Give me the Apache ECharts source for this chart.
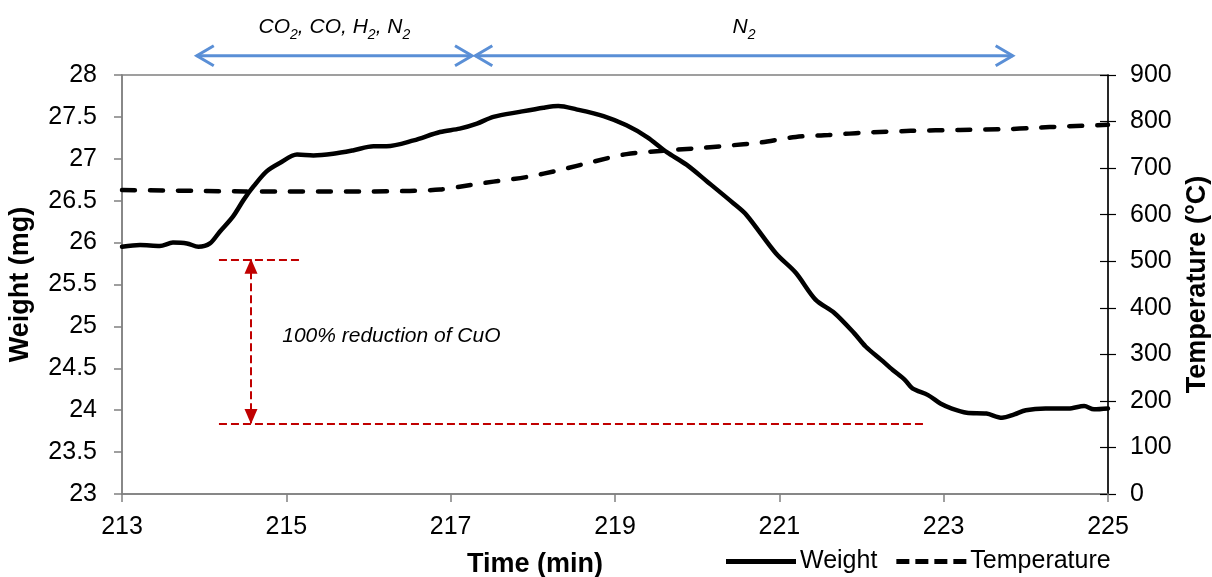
<!DOCTYPE html>
<html>
<head>
<meta charset="utf-8">
<script src="https://cdn.jsdelivr.net/npm/echarts@6/dist/echarts.min.js"></script>
<style>
html,body{margin:0;padding:0;background:#fff;}
#chart{width:1212px;height:577px;}
</style>
</head>
<body>
<div id="chart"></div>
<script>
// ---- Data ----
const weightTime = [213.00,213.22,213.46,213.62,213.79,213.93,214.07,214.19,214.35,214.48,214.60,214.76,214.92,215.13,215.33,215.57,215.81,216.06,216.22,216.55,216.87,217.11,217.32,217.52,217.84,218.13,218.31,218.53,218.86,219.14,219.39,219.63,219.87,220.12,220.44,220.60,220.96,221.20,221.44,221.67,221.91,222.05,222.24,222.38,222.53,222.62,222.81,222.96,223.10,223.28,223.52,223.71,223.86,224.00,224.24,224.52,224.71,224.83,225.00];
const weight = [25.95,25.97,25.96,26.00,25.99,25.95,25.99,26.13,26.31,26.51,26.67,26.85,26.95,27.05,27.04,27.06,27.10,27.15,27.15,27.22,27.32,27.36,27.42,27.50,27.56,27.61,27.63,27.59,27.51,27.40,27.26,27.08,26.93,26.73,26.47,26.33,25.87,25.64,25.32,25.16,24.92,24.76,24.60,24.48,24.36,24.26,24.18,24.08,24.02,23.97,23.96,23.91,23.95,24.00,24.02,24.02,24.05,24.01,24.02];

const tempTime = [213.0,213.5,214.0,214.5,215.0,215.5,216.0,216.5,216.87,217.11,217.52,217.93,218.33,218.74,219.14,219.55,219.95,220.36,220.77,221.2,221.6,222.0,222.6,223.2,223.8,224.05,224.53,225.0];
const temperature = [653,652,651,650,650,650,650,651,654,660,671,681,696,714,730,737,742,748,755,767,771,776,780,782,784,786,790,793];

const xTicks = [213,215,217,219,221,223,225];
const seriesNames = ['Weight','Temperature'];

// annotations (in data units)
const phaseLabels = ['{n|CO}{s|2}{n|, CO, H}{s|2}{n|, N}{s|2}', '{n|N}{s|2}'];
const arrowStarts = [213.91, 217.30];
const arrowEnds = [217.26, 223.84];
const arrowLevel = 28.23;
const phaseLabelLevel = 28.60;
const reductionTop = 25.80;
const reductionBottom = 23.84;
const reductionLineStart = 214.18;
const reductionTopEnd = 215.19;
const reductionBottomEnd = 222.76;
const reductionArrowTime = 214.57;
const reductionText = '100% reduction of CuO';
const reductionTextPos = [214.95, 24.88];

const FONT = '"Liberation Sans", Arial, sans-serif';
const red = '#c00000';
const blue = '#5a8fd6';
const axisGray = '#808080';

const chart = echarts.init(document.getElementById('chart'), null, {renderer: 'canvas'});

const solidIcon = 'path://M0,0H70V5H0Z';
const dashIcon = 'path://M0,0H13V5H0Z M19,0H32V5H19Z M38,0H51V5H38Z M57,0H70V5H57Z';

const option = {
  animation: false,
  textStyle: {fontFamily: FONT, color: '#000'},
  grid: {left: 122, right: 104, top: 75, bottom: 83, outerBoundsMode: 'none', containLabel: false,
         show: true, borderColor: axisGray, borderWidth: 1.5, backgroundColor: 'transparent'},
  legend: {
    data: [{name: seriesNames[0], icon: solidIcon}, {name: seriesNames[1], icon: dashIcon}],
    left: 721, top: 544,
    itemWidth: 70, itemHeight: 5, itemGap: 19,
    itemStyle: {color: '#000', borderWidth: 0},
    textStyle: {fontSize: 25, color: '#000', fontFamily: FONT, padding: [0, 0, 0, -1]}
  },
  xAxis: {
    type: 'value', min: 213, max: 225, interval: 2,
    name: 'Time (min)', nameLocation: 'middle', nameGap: 57,
    nameTextStyle: {fontSize: 27, fontWeight: 'bold', color: '#000', padding: [0, 160, 0, 0]},
    axisLine: {show: true, lineStyle: {color: axisGray, width: 1.5}},
    axisTick: {show: true, length: 8, lineStyle: {color: axisGray, width: 1.5}},
    axisLabel: {fontSize: 25, color: '#000', margin: 21},
    splitLine: {show: false}
  },
  yAxis: [
    {
      type: 'value', min: 23, max: 28, interval: 0.5, position: 'left',
      name: 'Weight (mg)', nameLocation: 'middle', nameGap: 88, nameRotate: 90,
      nameTextStyle: {fontSize: 27, fontWeight: 'bold', color: '#000'},
      axisLine: {show: true, lineStyle: {color: axisGray, width: 1.5}},
      axisTick: {show: true, length: 8, lineStyle: {color: axisGray, width: 1.5}},
      axisLabel: {fontSize: 25, color: '#000', margin: 25},
      splitLine: {show: false}
    },
    {
      type: 'value', min: 0, max: 900, interval: 100, position: 'right',
      name: 'Temperature (°C)', nameLocation: 'middle', nameGap: 76, nameRotate: 90,
      nameTextStyle: {fontSize: 27, fontWeight: 'bold', color: '#000'},
      axisLine: {show: true, lineStyle: {color: '#000', width: 1.5}},
      axisTick: {show: true, length: 8, lineStyle: {color: '#000', width: 1.2}},
      axisLabel: {fontSize: 25, color: '#000', margin: 22},
      splitLine: {show: false}
    },
    {
      type: 'value', min: 0, max: 900, interval: 100, position: 'right',
      axisLine: {show: false},
      axisTick: {show: true, inside: true, length: 8, lineStyle: {color: '#000', width: 1.2}},
      axisLabel: {show: false},
      splitLine: {show: false}
    }
  ],
  series: [
    {
      name: seriesNames[0], type: 'line', xAxisIndex: 0, yAxisIndex: 0,
      data: weightTime.map((t, i) => [t, weight[i]]),
      showSymbol: false, symbol: 'none', smooth: 0.3,
      lineStyle: {color: '#000', width: 4.5, cap: 'round', join: 'round'},
      itemStyle: {color: '#000'},
      z: 3,
      markLine: {
        silent: true, symbol: 'none',
        lineStyle: {color: red, type: [8, 4], width: 2},
        label: {show: false},
        data: [
          [{coord: [reductionLineStart, reductionTop]}, {coord: [reductionTopEnd, reductionTop]}],
          [{coord: [reductionLineStart, reductionBottom]}, {coord: [reductionBottomEnd, reductionBottom]}],
          [{coord: [reductionArrowTime, reductionTop], symbol: 'triangle', symbolSize: [13, 15], symbolRotate: 0, symbolOffset: [0, 7]},
           {coord: [reductionArrowTime, reductionBottom], symbol: 'triangle', symbolSize: [13, 15], symbolRotate: 180, symbolOffset: [0, 7]}]
        ]
      }
    },
    {
      name: seriesNames[1], type: 'line', xAxisIndex: 0, yAxisIndex: 1,
      data: tempTime.map((t, i) => [t, temperature[i]]),
      showSymbol: false, symbol: 'none', smooth: 0.3,
      lineStyle: {color: '#000', width: 4.5, type: [13, 15], cap: 'round'},
      itemStyle: {color: '#000'},
      z: 2
    }
  ]
};
chart.setOption(option);

// annotations positioned through the chart's own scales
function px(t, w) { return chart.convertToPixel({xAxisIndex: 0, yAxisIndex: 0}, [t, w]); }
const graphics = [];
const richStyle = {
  n: {fontSize: 21, fontStyle: 'italic', fontFamily: FONT, color: '#000', lineHeight: 26, verticalAlign: 'bottom'},
  s: {fontSize: 14, fontStyle: 'italic', fontFamily: FONT, color: '#000', lineHeight: 26, verticalAlign: 'bottom', padding: [0, 0, -4, 0]}
};
for (let i = 0; i < arrowStarts.length; i++) {
  const a = px(arrowStarts[i], arrowLevel);
  const b = px(arrowEnds[i], arrowLevel);
  graphics.push({type: 'line', shape: {x1: a[0], y1: a[1], x2: b[0], y2: b[1]}, style: {stroke: blue, lineWidth: 3}, silent: true});
  graphics.push({type: 'polyline', shape: {points: [[b[0] - 17, b[1] - 10], [b[0], b[1]], [b[0] - 17, b[1] + 10]]}, style: {stroke: blue, lineWidth: 3, fill: null}, silent: true});
  graphics.push({type: 'polyline', shape: {points: [[a[0] + 17, a[1] - 10], [a[0], a[1]], [a[0] + 17, a[1] + 10]]}, style: {stroke: blue, lineWidth: 3, fill: null}, silent: true});
  const m = px((arrowStarts[i] + arrowEnds[i]) / 2, phaseLabelLevel);
  graphics.push({type: 'text', x: m[0], y: m[1], style: {text: phaseLabels[i], rich: richStyle, align: 'center', verticalAlign: 'middle'}, silent: true});
}
const tp = px(reductionTextPos[0], reductionTextPos[1]);
graphics.push({type: 'text', x: tp[0], y: tp[1], style: {text: reductionText, fontSize: 21, fontStyle: 'italic', fontFamily: FONT, fill: '#000', align: 'left', verticalAlign: 'middle'}, silent: true});
chart.setOption({graphic: graphics});
</script>
</body>
</html>
